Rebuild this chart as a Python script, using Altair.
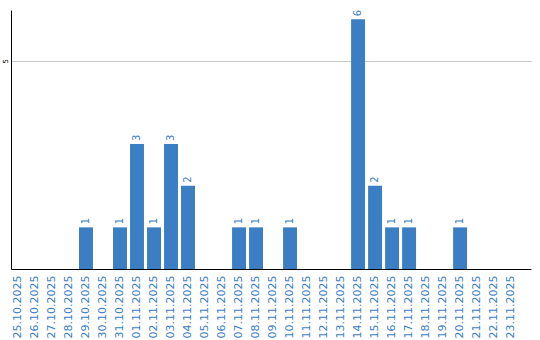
import altair as alt
import pandas as pd

dates = ["25.10.2025", "26.10.2025", "27.10.2025", "28.10.2025", "29.10.2025",
         "30.10.2025", "31.10.2025", "01.11.2025", "02.11.2025", "03.11.2025",
         "04.11.2025", "05.11.2025", "06.11.2025", "07.11.2025", "08.11.2025",
         "09.11.2025", "10.11.2025", "11.11.2025", "12.11.2025", "13.11.2025",
         "14.11.2025", "15.11.2025", "16.11.2025", "17.11.2025", "18.11.2025",
         "19.11.2025", "20.11.2025", "21.11.2025", "22.11.2025", "23.11.2025"]
counts = [0, 0, 0, 0, 1, 0, 1, 3, 1, 3, 2, 0, 0, 1, 1, 0, 1, 0, 0, 0,
          6, 2, 1, 1, 0, 0, 1, 0, 0, 0]

df = pd.DataFrame({"date": dates, "count": counts})
BLUE = "#3b7ec3"

x = alt.X("date:N", sort=dates,
          scale=alt.Scale(paddingInner=0.18, paddingOuter=0.38, align=0),
          axis=alt.Axis(title=None, labelAngle=270, labelAlign="right",
                        labelBaseline="middle", labelColor=BLUE,
                        labelFont="DejaVu Sans", labelFontSize=11,
                        labelPadding=6, ticks=False, domainColor="black",
                        domainWidth=1, grid=False))
y = alt.Y("count:Q", scale=alt.Scale(domain=[0, 6.22], nice=False),
          axis=alt.Axis(title=None, values=[5], labelAngle=270,
                        labelAlign="center", labelBaseline="bottom",
                        labelFont="DejaVu Sans", labelFontSize=7,
                        labelColor="black", labelPadding=3, ticks=False,
                        domainColor="black", domainWidth=1,
                        grid=True, gridColor="#c8c8c8", gridWidth=1))

bars = alt.Chart(df).mark_bar(color=BLUE).encode(x=x, y=y)
labels = alt.Chart(df).transform_filter("datum.count > 0").mark_text(
    angle=270, align="left", baseline="middle", dx=3, color=BLUE,
    font="DejaVu Sans", fontSize=10
).encode(x=alt.X("date:N", sort=dates), y="count:Q", text="count:Q")

chart = alt.layer(bars, labels).properties(
    width=520, height=259,
    background="white",
    autosize=alt.AutoSizeParams(type="none"),
    padding={"left": 11, "top": 10, "right": 9, "bottom": 71},
).configure_view(stroke=None)

chart.save("out.html", embed_options={"renderer": "svg", "actions": False})
